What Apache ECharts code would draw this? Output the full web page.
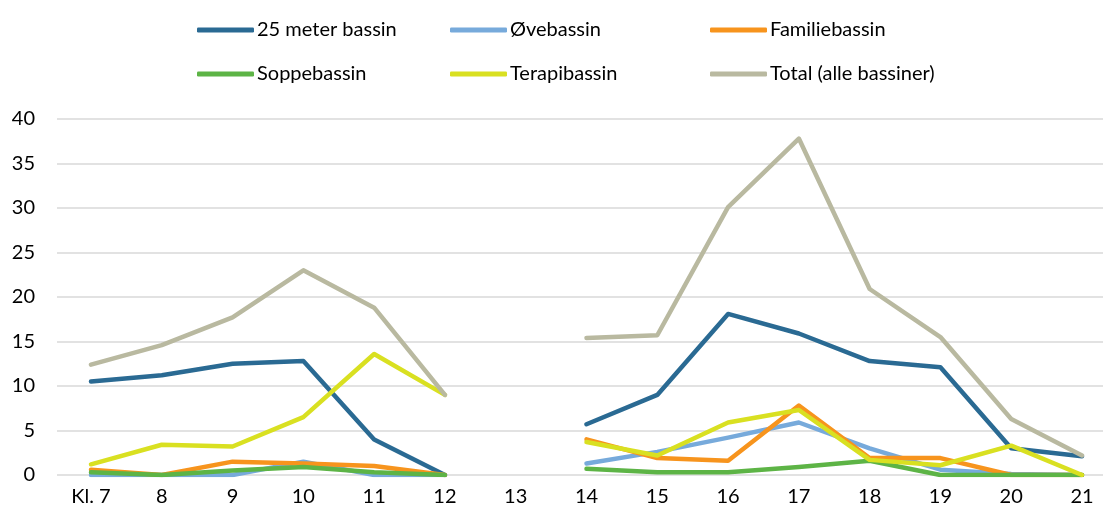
<!DOCTYPE html>
<html><head><meta charset="utf-8">
<script src="https://cdn.jsdelivr.net/npm/echarts@6/dist/echarts.min.js"></script>
<style>html,body{margin:0;padding:0;background:#fff}#c{width:1103px;height:516px}</style>
</head><body><div id="c"></div>
<script>
const categories = ['Kl. 7','8','9','10','11','12','13','14','15','16','17','18','19','20','21'];
const seriesNames = ['25 meter bassin','Øvebassin','Familiebassin','Soppebassin','Terapibassin','Total (alle bassiner)'];
const meter25 = [10.5,11.2,12.5,12.8,4.0,0,null,5.7,9.0,18.1,15.9,12.8,12.1,3.0,2.1];
const ovebassin = [0,0,0,1.5,0,0,null,1.3,2.6,4.2,5.9,3.0,0.6,0.1,0];
const familiebassin = [0.6,0,1.5,1.3,1.0,0,null,4.0,1.9,1.6,7.8,1.9,1.9,0,0];
const soppebassin = [0.3,0,0.5,0.9,0.3,0,null,0.7,0.3,0.3,0.9,1.6,0,0,0];
const terapibassin = [1.2,3.4,3.2,6.5,13.6,9.0,null,3.7,2.2,5.9,7.3,1.7,1.1,3.3,0];
const total = [12.4,14.6,17.7,23.0,18.8,9.0,null,15.4,15.7,30.1,37.8,20.9,15.5,6.3,2.2];
const yTicks = [0,5,10,15,20,25,30,35,40];

const colors = ['#2A6A93','#77AADB','#F7941D','#5DB446','#D9E021','#B9B9A0'];
const values = [meter25, ovebassin, familiebassin, soppebassin, terapibassin, total];
const font = 'Lato, "Open Sans", sans-serif';

const legendPos = [[192,15],[445,15],[705,15],[192,59],[445,59],[705,59]];
const legends = seriesNames.map((n,i)=>({
  data:[n], left:legendPos[i][0], top:legendPos[i][1],
  icon:'roundRect', itemWidth:57, itemHeight:5, itemGap:0,
  textStyle:{fontFamily:font, fontSize:20, color:'#000', padding:[0,0,0,-2]},
  selectedMode:false
}));

const yMin = yTicks[0], yMax = yTicks[yTicks.length-1];
const chart = echarts.init(document.getElementById('c'));
chart.setOption({
  animation:false,
  color:colors,
  legend:legends,
  grid:[
    {left:57, right:0, top:119, bottom:41},
    {left:91, right:21, top:119, bottom:41}
  ],
  xAxis:[
    {gridIndex:0, type:'category', data:categories, show:false},
    {gridIndex:1, type:'category', data:categories, boundaryGap:false,
      axisLine:{show:false}, axisTick:{show:false},
      axisLabel:{fontFamily:font, fontSize:20, color:'#000', margin:12, interval:0},
      splitLine:{show:false}}
  ],
  yAxis:[
    {gridIndex:0, type:'value', min:yMin, max:yMax, interval:5,
      axisLine:{show:false}, axisTick:{show:false},
      axisLabel:{fontFamily:font, fontSize:20, color:'#000', margin:22},
      splitLine:{lineStyle:{color:'#D9D9D9', width:1.5}}},
    {gridIndex:1, type:'value', min:yMin, max:yMax, interval:5, show:false,
      splitLine:{show:false}}
  ],
  series: seriesNames.map((n,i)=>({
    name:n, type:'line', xAxisIndex:1, yAxisIndex:1, data:values[i],
    showSymbol:false, symbol:'none', connectNulls:false,
    lineStyle:{width:4.5, color:colors[i], cap:'round', join:'round'},
    itemStyle:{color:colors[i]}
  }))
});
</script></body></html>
